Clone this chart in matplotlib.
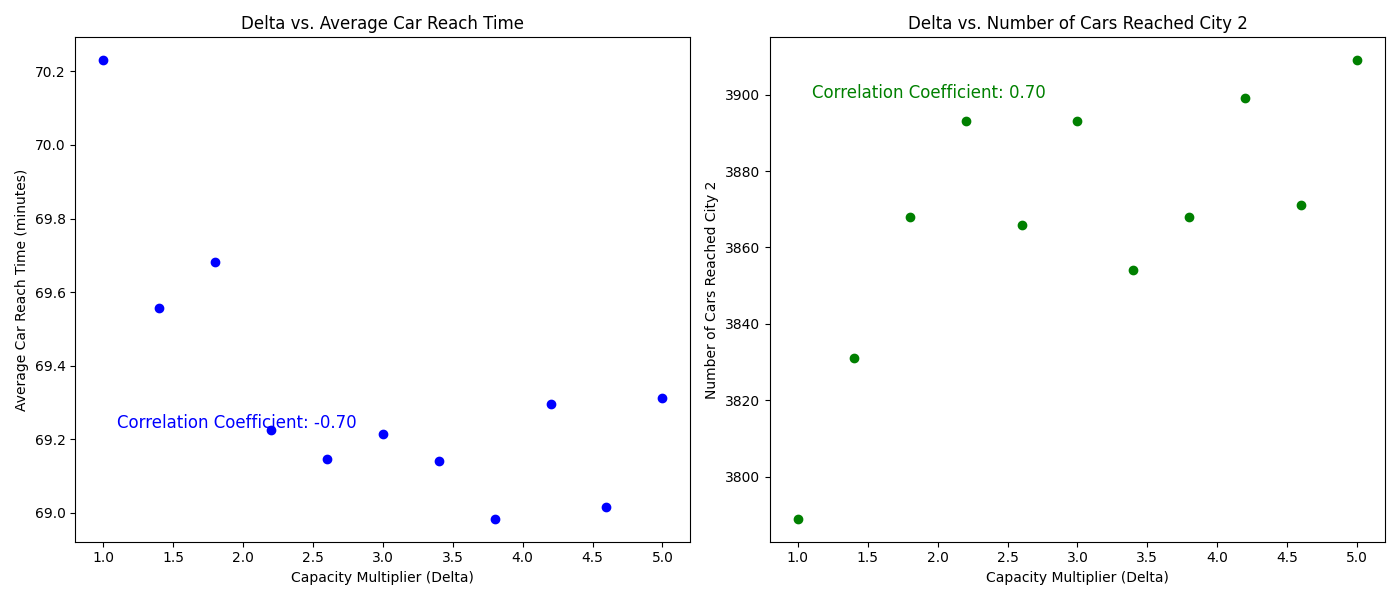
import numpy as np
import matplotlib.pyplot as plt

# Valores
delta = [1.0, 1.4, 1.8, 2.2, 2.6, 3.0, 3.4, 3.8, 4.2, 4.6, 5.0]
avg_reach_time = [70.23, 69.556, 69.683, 69.226, 69.147, 69.215, 69.142, 68.984, 69.296, 69.016, 69.312]
cars_reached = [3789, 3831, 3868, 3893, 3866, 3893, 3854, 3868, 3899, 3871, 3909]
corr_time = "-0.70"
corr_cars = "0.70"

plt.figure(figsize=(14, 6))

plt.subplot(1, 2, 1)
plt.scatter(delta, avg_reach_time, color='blue')
plt.title('Delta vs. Average Car Reach Time')
plt.xlabel('Capacity Multiplier (Delta)')
plt.ylabel('Average Car Reach Time (minutes)')
plt.text(1.1, 69.23, f'Correlation Coefficient: {corr_time}', fontsize=12, color='blue')

plt.subplot(1, 2, 2)
plt.scatter(delta, cars_reached, color='green')
plt.title('Delta vs. Number of Cars Reached City 2')
plt.xlabel('Capacity Multiplier (Delta)')
plt.ylabel('Number of Cars Reached City 2')
plt.text(1.1, 3899, f'Correlation Coefficient: {corr_cars}', fontsize=12, color='green')

plt.tight_layout()
plt.savefig('out.png', dpi=100)
